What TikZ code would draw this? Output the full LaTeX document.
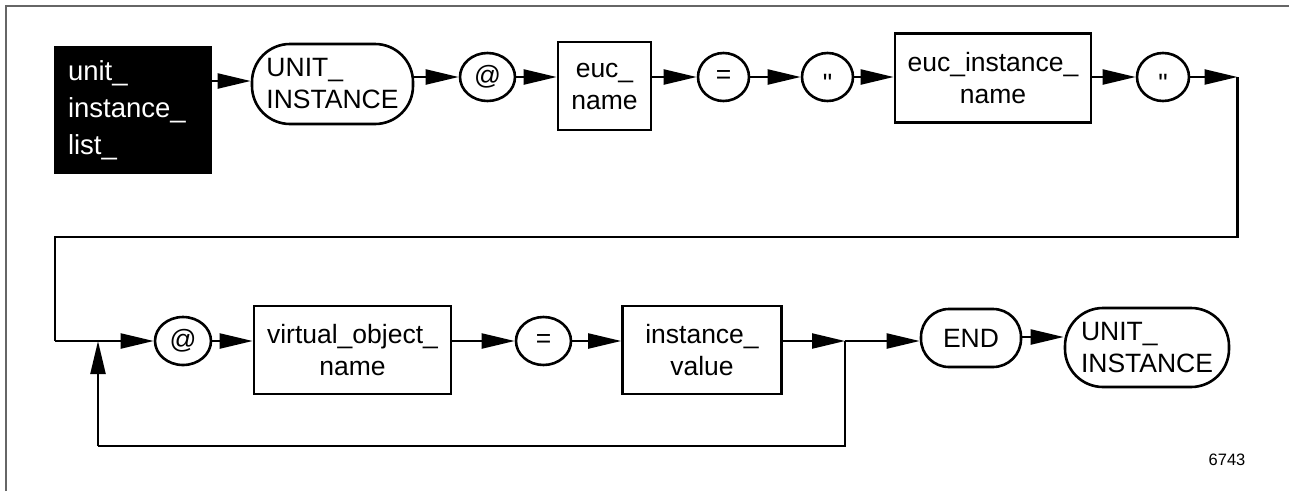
\documentclass[tikz,border=0pt]{standalone}
\usepackage{fontspec}
\setmainfont{Liberation Sans}
\newfontfamily\plainquote{Liberation Sans}
\usetikzlibrary{arrows.meta,shapes.geometric}
\newcommand{\dq}{\raisebox{-0.59em}[0pt][0pt]{\plainquote\symbol{34}}}
\tikzset{
  lbl/.style={font=\fontsize{26.5}{32}\selectfont},
  term/.style={ellipse, draw, line width=2.6pt, inner sep=0pt, lbl},
  nonterm/.style={rectangle, draw, line width=2.6pt, inner sep=0pt, align=center, lbl},
  kw/.style={rectangle, draw, line width=2.6pt, inner sep=0pt, align=left, lbl},
  conn/.style={line width=2.2pt, -{Triangle[length=33pt,width=15pt]}},
  wire/.style={line width=2.2pt},
  frameline/.style={line width=2pt, draw=black!60}
}
\begin{document}
\begin{tikzpicture}[x=1pt,y=-1pt]
\useasboundingbox (0,0) rectangle (1289,491);
% page frame
\draw[frameline] (6,491) -- (6,6) -- (1289,6);

% first row
\node[rectangle, fill=black, text=white, minimum width=158pt, minimum height=128pt,
      inner sep=0pt, text width=130pt, align=left, font=\fontsize{27.5}{37}\selectfont] (blk) at (133,110)
      {unit\_\\instance\_\\list\_};
\node[kw, rounded corners=38pt, minimum width=161pt, minimum height=80pt] (u1) at (332.5,84) {UNIT\_\\INSTANCE};
\node[term, minimum width=55pt, minimum height=48pt] (at1) at (487.5,77) {@};
\node[nonterm, minimum width=93pt, minimum height=88pt] (euc) at (604.5,86) {euc\_\\name};
\node[term, minimum width=51pt, minimum height=48pt] (eq1) at (723.5,77) {=};
\node[term, minimum width=51pt, minimum height=48pt] (q1) at (827.5,77) {\dq};
\node[nonterm, minimum width=196pt, minimum height=89pt] (ein) at (993,78) {euc\_instance\_\\name};
\node[term, minimum width=52pt, minimum height=48pt] (q2) at (1163,77) {\dq};

% turn-around to the second row
\coordinate (c1) at (1237.5,77);
\coordinate (c2) at (1237.5,237);
\coordinate (c3) at (55,237);
\coordinate (c4) at (55,341);

% second row
\node[term, minimum width=56pt, minimum height=48pt] (at2) at (183,341) {@};
\node[nonterm, minimum width=197pt, minimum height=88pt] (vobj) at (352.5,350) {virtual\_object\_\\name};
\node[term, minimum width=55pt, minimum height=48pt] (eq2) at (543.5,341) {=};
\node[nonterm, minimum width=159pt, minimum height=88pt] (ival) at (702,350) {instance\_\\value};
\coordinate (j) at (845,341);
\coordinate (lb1) at (845,446);
\coordinate (lb2) at (98,446);
\coordinate (lt) at (98,341);
\node[kw, rounded corners=28pt, minimum width=100pt, minimum height=58pt, align=center] (endn) at (971,338) {END};
\node[kw, rounded corners=38pt, minimum width=164pt, minimum height=79pt] (u2) at (1147,347.5) {UNIT\_\\INSTANCE};

\node[font=\fontsize{16.5}{20}\selectfont] (fig) at (1227,460) {6743};

% connectors, first row
\draw[conn] (blk.east |- 0,81) -- (u1.west |- 0,81);
\draw[conn] (u1.east |- at1.west) -- (at1.west);
\draw[conn] (at1.east) -- (euc.west |- at1.east);
\draw[conn] (euc.east |- eq1.west) -- (eq1.west);
\draw[conn] (eq1.east) -- (q1.west);
\draw[conn] (q1.east) -- (ein.west |- q1.east);
\draw[conn] (ein.east |- q2.west) -- (q2.west);
\draw[conn] (q2.east) -- (c1);
\draw[wire] (c1) -- (c2) -- (c3) -- (c4);

% connectors, second row
\draw[conn] (c4) -- (at2.west);
\draw[conn] (at2.east) -- (vobj.west |- at2.east);
\draw[conn] (vobj.east |- eq2.west) -- (eq2.west);
\draw[conn] (eq2.east) -- (ival.west |- eq2.east);
\draw[conn] (ival.east |- j) -- (j);
\draw[conn] (j) -- (endn.west |- j);
\draw[conn] (endn.east |- 0,337) -- (u2.west |- 0,337);

% repetition loop
\draw[wire] (j) -- (lb1) -- (lb2);
\draw[conn] (lb2) -- (lt);
\end{tikzpicture}
\end{document}
